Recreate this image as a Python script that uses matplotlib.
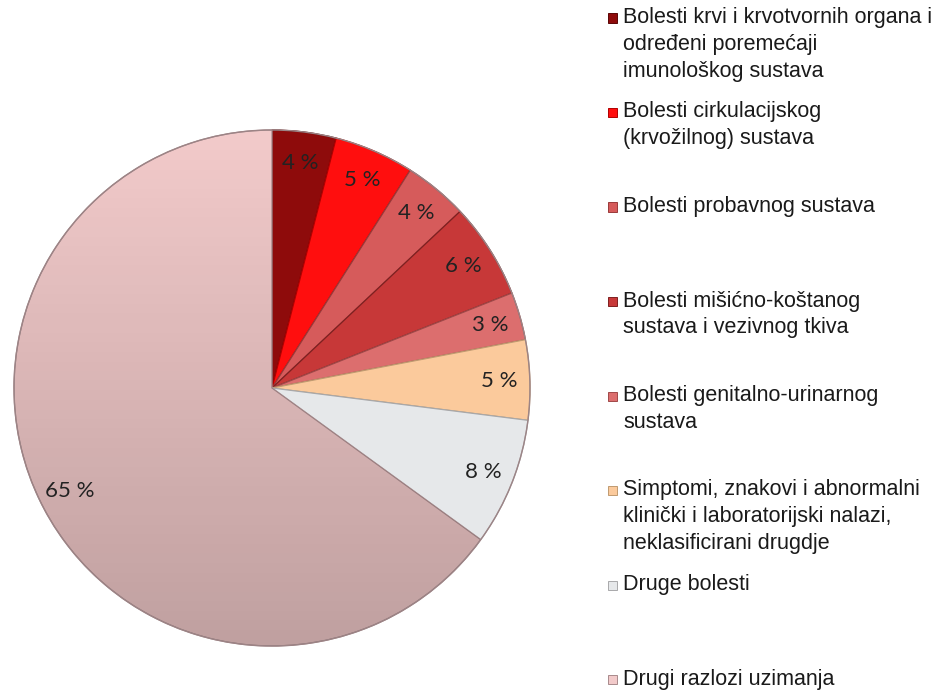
import numpy as np
import matplotlib.pyplot as plt
from matplotlib.patches import Rectangle, Circle

# data
labels = [
    "Bolesti krvi i krvotvornih organa i\nodređeni poremećaji\nimunološkog sustava",
    "Bolesti cirkulacijskog\n(krvožilnog) sustava",
    "Bolesti probavnog sustava",
    "Bolesti mišićno-koštanog\nsustava i vezivnog tkiva",
    "Bolesti genitalno-urinarnog\nsustava",
    "Simptomi, znakovi i abnormalni\nklinički i laboratorijski nalazi,\nneklasificirani drugdje",
    "Druge bolesti",
    "Drugi razlozi uzimanja",
]
values = [4, 5, 4, 6, 3, 5, 8, 65]
pct_labels = ["4 %", "5 %", "4 %", "6 %", "3 %", "5 %", "8 %", "65 %"]
colors = ["#8E0B0B", "#FF0E0E", "#D65B5B", "#C73838", "#DC6E6E",
          "#FBCA9C", "#E6E8EA", "#F2CACA"]
edges = ["#5A0606", "#B00000", "#9A3A3A", "#7E2020", "#A04848",
         "#C09A70", "#A8A8AA", "#A88A8C"]

W, H = 941, 697
fig = plt.figure(figsize=(W / 100, H / 100), dpi=100)

# pie axes: centre (272, 388) px, radius 258 px
cx, cy, R = 272, 388, 258
lim = 1.05
half = R * lim
ax = fig.add_axes([(cx - half) / W, (H - cy - half) / H, 2 * half / W, 2 * half / H])

wedges, texts = ax.pie(values, colors=colors, startangle=90, counterclock=False,
                       labels=pct_labels, labeldistance=0.88,
                       wedgeprops=dict(linewidth=0.9),
                       textprops=dict(fontsize=16, color="#222222", family="Lato"))
for w, ec in zip(wedges, edges):
    w.set_edgecolor(ec)
for t in texts:
    t.set_ha("center")
    t.set_va("center")
    t.set_zorder(5)

# soft vertical shading on the big slice (lighter at top, darker at bottom)
shade = np.zeros((256, 1, 4))
shade[:, 0, 3] = np.linspace(0.0, 0.21, 256)
im = ax.imshow(shade, extent=(-1, 1, -1, 1), origin="upper", aspect="auto", zorder=3)
im.set_clip_path(wedges[-1])
ax.add_patch(Circle((0, 0), 1, facecolor="none", edgecolor="#9C8486", linewidth=1.0, zorder=4))

ax.set_xlim(-lim, lim)
ax.set_ylim(-lim, lim)
ax.set_aspect("equal")
ax.axis("off")

# legend drawn by hand
x_box, x_txt = 612 / W, 623 / W
y_first, step = 18, 94.5
for i, (lab, col, ec) in enumerate(zip(labels, colors, edges)):
    y = 1 - (y_first + i * step) / H
    fig.patches.append(Rectangle((x_box - 4.5 / W, y - 4.5 / H), 9 / W, 9 / H,
                                 transform=fig.transFigure, facecolor=col,
                                 edgecolor=ec, linewidth=0.7))
    fig.text(x_txt, y + 11 / H, lab, ha="left", va="top", fontsize=15.5,
             family="Liberation Sans", color="#1a1a1a", linespacing=1.37)

fig.savefig("out.png", dpi=100)
